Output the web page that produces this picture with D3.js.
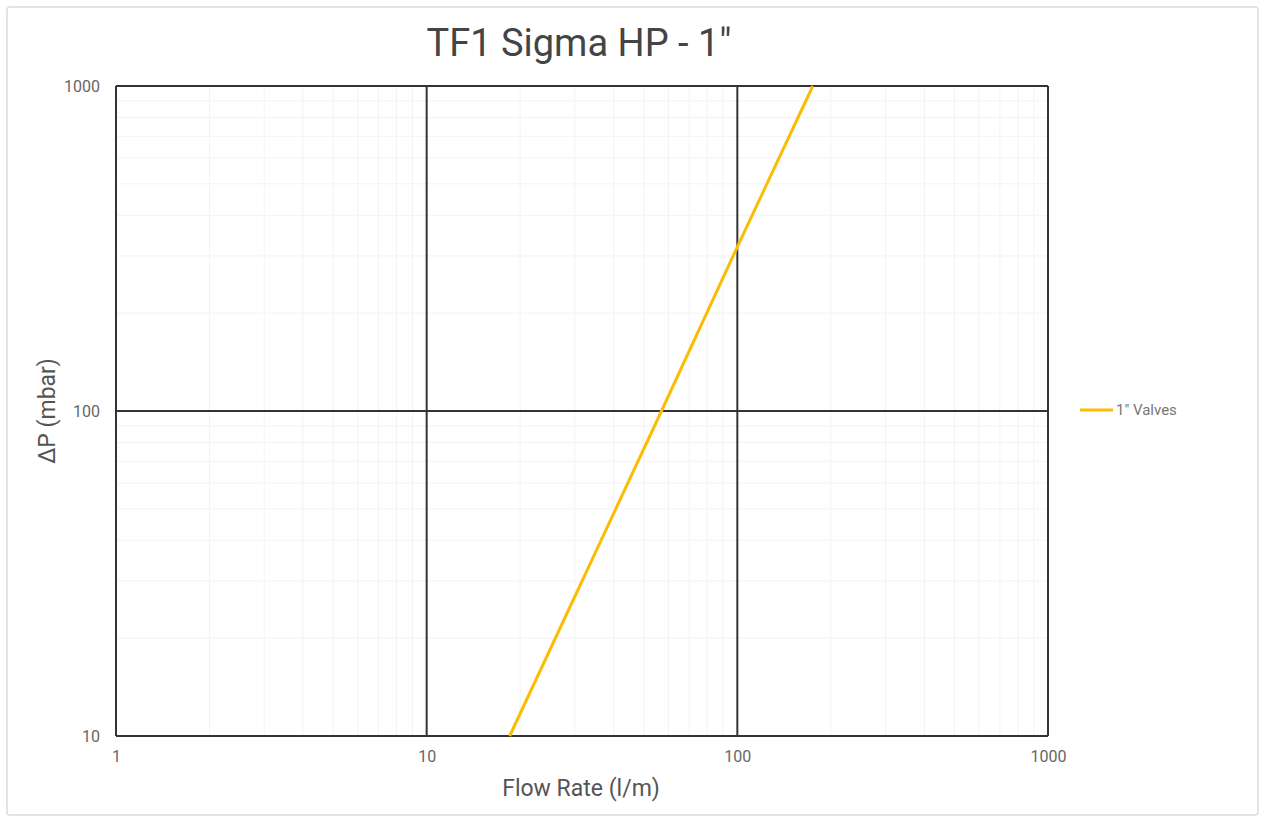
<!DOCTYPE html>
<html>
<head>
<meta charset="utf-8">
<script src="https://cdn.jsdelivr.net/npm/d3@7"></script>
<style>
body { margin: 0; background: #fff; font-family: Roboto, "Noto Sans", sans-serif; }
</style>
</head>
<body>
<script>
var titel = "TF1 Sigma HP - 1\""
var xLabel = "Flow Rate (l/m)"
var yLabel = "\u0394P (mbar)"
var seriesName = "1\" Valves"
var flow = [18.5, 57, 100, 175]
var dp = [10, 100, 320, 1000]
var xTicks = [1, 10, 100, 1000]
var yTicks = [10, 100, 1000]

var svg = d3.select("body").append("svg")
  .attr("width", 1265)
  .attr("height", 820)

// ramka
svg.append("rect")
  .attr("x", 7).attr("y", 7)
  .attr("width", 1251).attr("height", 808)
  .attr("rx", 3)
  .attr("fill", "#fff")
  .attr("stroke", "#dcdcdc")
  .attr("stroke-width", 1.5)

var lewo = 116, prawo = 1048, gora = 86, dol = 736

var x = d3.scaleLog().domain([1, 1000]).range([lewo, prawo])
var y = d3.scaleLog().domain([10, 1000]).range([dol, gora])

// drobna siatka
var minorX = []
var minorY = []
xTicks.slice(0, -1).forEach(function(d){ for (var i=2;i<10;i++) minorX.push(d*i) })
yTicks.slice(0, -1).forEach(function(d){ for (var i=2;i<10;i++) minorY.push(d*i) })

var siatka = svg.append("g")
siatka.selectAll(".mx").data(minorX).enter().append("line")
  .attr("x1", function(d){return x(d)}).attr("x2", function(d){return x(d)})
  .attr("y1", gora).attr("y2", dol)
  .attr("stroke", "#f3f3f3").attr("stroke-width", 1)
siatka.selectAll(".my").data(minorY).enter().append("line")
  .attr("y1", function(d){return y(d)}).attr("y2", function(d){return y(d)})
  .attr("x1", lewo).attr("x2", prawo)
  .attr("stroke", "#f3f3f3").attr("stroke-width", 1)

// glowna siatka
siatka.selectAll(".gx").data(xTicks).enter().append("line")
  .attr("x1", function(d){return x(d)}).attr("x2", function(d){return x(d)})
  .attr("y1", gora).attr("y2", dol)
  .attr("stroke", "#333").attr("stroke-width", 2)
siatka.selectAll(".gy").data(yTicks).enter().append("line")
  .attr("y1", function(d){return y(d)}).attr("y2", function(d){return y(d)})
  .attr("x1", lewo).attr("x2", prawo)
  .attr("stroke", "#333").attr("stroke-width", 2)

// osie
var osX = svg.append("g").attr("transform", "translate(0," + (dol + 12) + ")")
  .call(d3.axisBottom(x).tickValues(xTicks).tickFormat(d3.format("d")).tickSize(0))
osX.select(".domain").remove()
osX.selectAll("text").attr("fill", "#666").style("font-size", "16px").style("font-family", "Roboto")

var osY = svg.append("g").attr("transform", "translate(" + (lewo - 13) + ",0)")
  .call(d3.axisLeft(y).tickValues(yTicks).tickFormat(d3.format("d")).tickSize(0))
osY.select(".domain").remove()
osY.selectAll("text").attr("fill", "#666").style("font-size", "16px").style("font-family", "Roboto")

// linia
var linia = d3.line()
  .x(function(d){return x(d[0])})
  .y(function(d){return y(d[1])})
svg.append("path")
  .datum(d3.zip(flow, dp))
  .attr("d", linia)
  .attr("fill", "none")
  .attr("stroke", "#fbbc04")
  .attr("stroke-width", 3)

// teksty
svg.append("text")
  .attr("x", 579).attr("y", 56)
  .attr("text-anchor", "middle")
  .attr("fill", "#444")
  .style("font-size", "38px")
  .text(titel)

svg.append("text")
  .attr("x", 581).attr("y", 796)
  .attr("text-anchor", "middle")
  .attr("fill", "#555")
  .style("font-size", "23px")
  .text(xLabel)

svg.append("text")
  .attr("transform", "translate(55,411) rotate(-90)")
  .attr("text-anchor", "middle")
  .attr("fill", "#555")
  .style("font-size", "23px")
  .text(yLabel)

// legenda
svg.append("line")
  .attr("x1", 1080).attr("x2", 1113)
  .attr("y1", 410).attr("y2", 410)
  .attr("stroke", "#fbbc04").attr("stroke-width", 3)
svg.append("text")
  .attr("x", 1116).attr("y", 415)
  .attr("fill", "#777")
  .style("font-size", "15px")
  .text(seriesName)
</script>
</body>
</html>
